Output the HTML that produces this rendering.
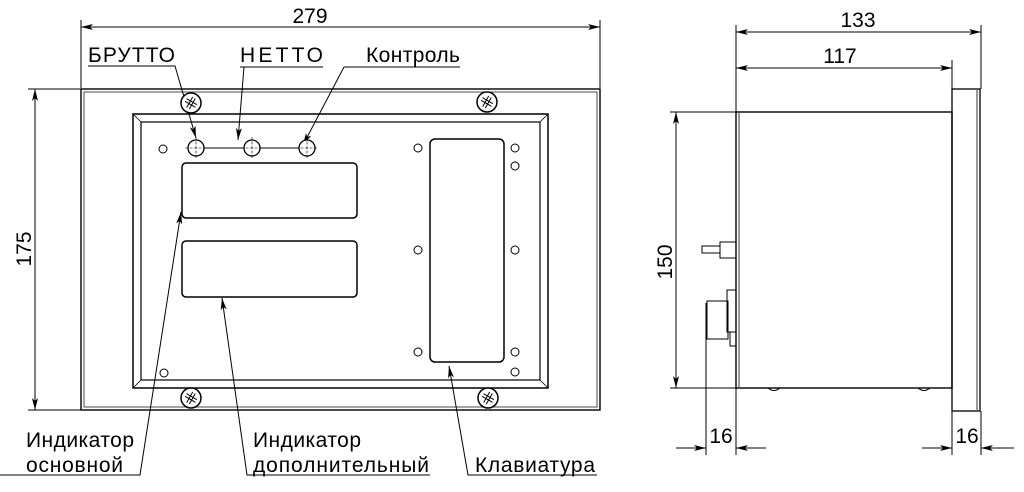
<!DOCTYPE html>
<html><head><meta charset="utf-8"><style>
html,body{margin:0;padding:0;background:#fff;}
svg{display:block;}
text{font-family:"Liberation Sans",sans-serif;fill:#000;}
</style></head><body>
<svg width="1024" height="492" viewBox="0 0 1024 492" xmlns="http://www.w3.org/2000/svg">
<defs>
<marker id="a" viewBox="0 0 12 6" refX="12" refY="3" markerWidth="12" markerHeight="6" orient="auto-start-reverse" markerUnits="userSpaceOnUse">
<path d="M0,0 L12,3 L0,6 L3,3 z" fill="#000"/></marker>
<g id="scr"><circle r="10" fill="#fff" stroke="#000" stroke-width="1.5"/>
<path d="M-6,-1.5 H6 M-6,1.5 H6 M-1.5,-6 V6 M1.5,-6 V6" stroke="#000" stroke-width="1" transform="rotate(30)"/></g>
<g id="btn"><circle r="8" fill="#fff" stroke="#000" stroke-width="1.3"/><path d="M0,-11 V11 M-11,0 H11" stroke="#000" stroke-width="0.6" stroke-dasharray="3,1.5"/></g>
</defs>
<g fill="none" stroke="#000" stroke-width="1">
<rect x="81" y="89" width="519" height="321" stroke-width="1.4"/>
<rect x="84" y="92" width="513" height="315" stroke-width="0.7"/>
<rect x="133" y="114" width="415" height="274" stroke-width="1.5"/>
<rect x="141" y="122" width="399" height="258" stroke-width="1.2"/>
<path d="M133,114 L141,122 M548,114 L540,122 M133,388 L141,380 M548,388 L540,380" stroke-width="0.8"/>
<rect x="182" y="163" width="175" height="55" rx="4" stroke-width="1.5"/>
<rect x="182" y="241" width="175" height="56" rx="4" stroke-width="1.5"/>
<rect x="430" y="139" width="74" height="223" rx="5" stroke-width="1.5"/>
<path d="M196,148 H307"/>
<circle cx="163" cy="149" r="4"/><circle cx="418" cy="148" r="4"/><circle cx="515" cy="148" r="4"/>
<circle cx="515" cy="166" r="4"/><circle cx="418" cy="250" r="4"/><circle cx="515" cy="250" r="4"/>
<circle cx="418" cy="352" r="4"/><circle cx="515" cy="352" r="4"/><circle cx="164" cy="373" r="4"/>
<circle cx="515" cy="372" r="4"/>
<path d="M81,88 V20 M600,88 V20"/>
<path d="M81,27 H600" marker-start="url(#a)" marker-end="url(#a)"/>
<path d="M81,89 H28 M81,410 H28"/>
<path d="M35,89 V410" marker-start="url(#a)" marker-end="url(#a)"/>
<path d="M88,66 H175 L196,138" marker-end="url(#a)"/>
<path d="M240,67 H323 M244,67 L238,140" marker-end="url(#a)"/>
<path d="M344,67 H460 M344,67 L303,145" marker-end="url(#a)"/>
<path d="M0,475 H140 L181,212" marker-end="url(#a)"/>
<path d="M430,475 H247 L222,298" marker-end="url(#a)"/>
<path d="M597,475 H468 L449,366" marker-end="url(#a)"/>
<rect x="736" y="112" width="216" height="276" stroke-width="1.4"/>
<path d="M739,113 V387" stroke-width="0.8"/>
<rect x="952" y="89" width="28" height="322" stroke-width="1.3"/>
<path d="M977,90 V410" stroke-width="0.8"/>
<path d="M736,112 V25 M952,89 V60 M981,89 V25"/>
<path d="M736,32 H981" marker-start="url(#a)" marker-end="url(#a)"/>
<path d="M736,68 H952" marker-start="url(#a)" marker-end="url(#a)"/>
<path d="M736,112 H670 M736,388 H670"/>
<path d="M676,112 V388" marker-start="url(#a)" marker-end="url(#a)"/>
<path d="M706,303 V455 M736,388 V455 M952,411 V455 M981,411 V455"/>
<path d="M676,448 H706" marker-end="url(#a)"/><path d="M766,448 H736" marker-end="url(#a)"/>
<path d="M922,448 H952" marker-end="url(#a)"/><path d="M1014,448 H981" marker-end="url(#a)"/>
<rect x="702" y="246" width="18" height="7"/>
<rect x="720" y="242" width="16" height="16"/>
<rect x="707" y="301" width="21" height="38"/>
<rect x="727" y="290" width="9" height="42"/>
<rect x="730" y="332" width="6" height="14"/>
<path d="M768,388 q6,5 12,0 M918,388 q6,5 12,0"/>
</g>
<use href="#scr" x="191" y="103"/><use href="#scr" x="487" y="102"/>
<use href="#scr" x="191" y="398"/><use href="#scr" x="488" y="398"/>
<use href="#btn" x="196" y="148"/><use href="#btn" x="252" y="148"/><use href="#btn" x="307" y="148"/>
<g font-size="21">
<text x="310" y="23" text-anchor="middle">279</text>
<text x="88" y="62" textLength="87">БРУТТО</text>
<text x="240" y="62" textLength="83">НЕТТО</text>
<text x="366" y="62" textLength="94">Контроль</text>
<text x="26" y="447" textLength="108">Индикатор</text>
<text x="26" y="472" textLength="97">основной</text>
<text x="253" y="447" textLength="108">Индикатор</text>
<text x="253" y="472" textLength="176">дополнительный</text>
<text x="475" y="472" textLength="120">Клавиатура</text>
<text x="858" y="27" text-anchor="middle">133</text>
<text x="840" y="63" text-anchor="middle">117</text>
<text x="721" y="443" text-anchor="middle">16</text>
<text x="967" y="443" text-anchor="middle">16</text>
<text transform="translate(31,249) rotate(-90)" text-anchor="middle">175</text>
<text transform="translate(672,262) rotate(-90)" text-anchor="middle">150</text>
</g>
</svg>
</body></html>
